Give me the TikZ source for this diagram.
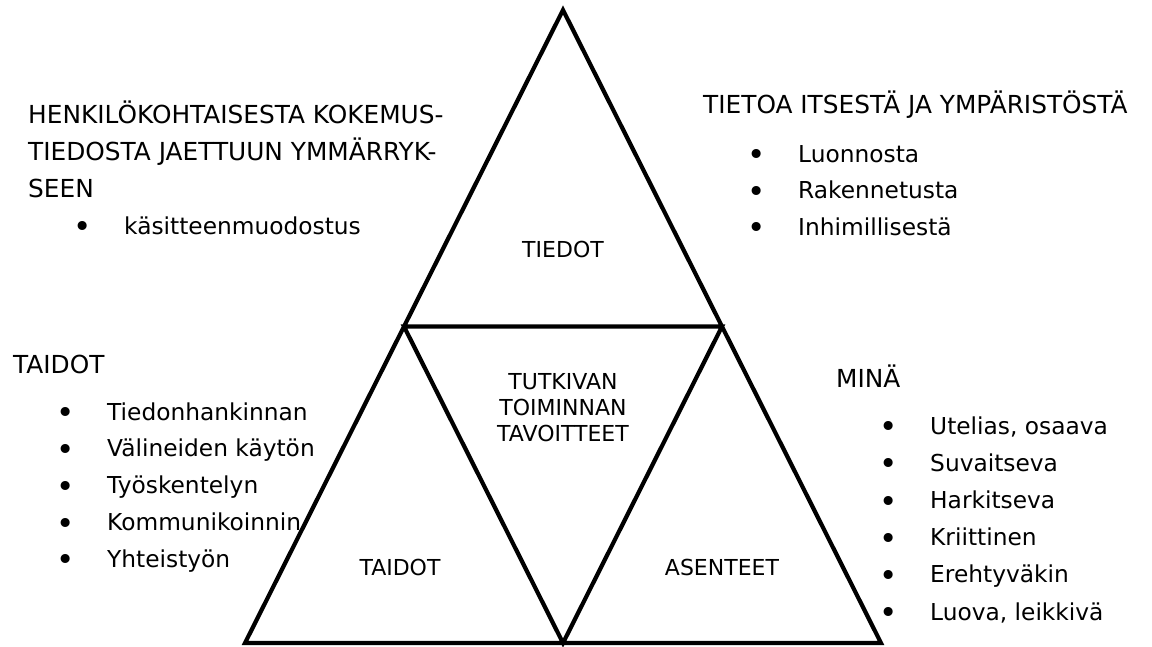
\documentclass[tikz,border=0pt]{standalone}
\usepackage{fontspec}
\setmainfont{DejaVu Sans}
\usetikzlibrary{calc}
\tikzset{ %line width = 4pt,
  {side/.style} ={draw,line width=4.2pt,line join=miter},
  {head/.style} ={anchor=base west,inner sep=0,
                  font=\fontsize{24.8}{37}\selectfont},
  {item/.style} ={head,font=\fontsize{23.3}{37}\selectfont},
  {part/.style} ={inner sep=0,align=center,
                  font=\fontsize{22}{26}\selectfont},
 }
\newcommand{\bul}[1]{\makebox[51pt][l]{\raisebox{-3.6pt}{\fontsize{31}{31}\selectfont\textbullet}}#1}

\begin{document}
\begin{tikzpicture}[x=1pt,y=-1pt]
\useasboundingbox (0,0) rectangle (1152,646);
\coordinate (top) at (563,10);
\coordinate (bl) at (245,643);
\coordinate (br) at (881,643);
\coordinate (ml) at ($(top)!.5!(bl)$);
\coordinate (mr) at ($(top)!.5!(br)$);
\coordinate (mb) at ($(bl)!.5!(br)$);
\path[side] (top) -- (bl) -- (br) -- cycle
            (ml) -- (mr) -- (mb) -- cycle;
% parts of the triangle
\node[part,anchor=base] (tiedot) at (563,257) {TIEDOT};
\node[part] (tavoite) at (563,407.5) {TUTKIVAN\\TOIMINNAN\\TAVOITTEET};
\node[part,anchor=base] (taidot) at (400,575) {TAIDOT};
\node[part,anchor=base] (asenteet) at (722,575) {ASENTEET};
% texts round it
\node[head] (koke1) at (28,123) {HENKILÖKOHTAISESTA KOKEMUS-};
\node[head] (koke2) at (28,160) {TIEDOSTA JAETTUUN YMMÄRRYK-};
\node[head] (koke3) at (28,197) {SEEN};
\node[item] (koke4) at (73,234) {\bul{käsitteenmuodostus}};
\node[head] (tieto) at (703,113) {TIETOA ITSESTÄ JA YMPÄRISTÖSTÄ};
\foreach \t [count=\i] in {Luonnosta,Rakennetusta,Inhimillisestä}
  \node[item] (tieto\i) at (747,162+36.5*\i-36.5) {\bul{\t}};
\node[head] (taito) at (13,373) {TAIDOT};
\foreach \t [count=\i] in {Tiedonhankinnan,Välineiden käytön,Työskentelyn,
                           Kommunikoinnin,Yhteistyön}
  \node[item] (taito\i) at (56,420+36.8*\i-36.8) {\bul{\t}};
\node[head] (mina) at (836,387) {MINÄ};
\foreach \t [count=\i] in {{Utelias, osaava},Suvaitseva,Harkitseva,
                           Kriittinen,Erehtyväkin,{Luova, leikkivä}}
  \node[item] (mina\i) at (879,434+37.2*\i-37.2) {\bul{\t}};
\end{tikzpicture}
\end{document}
